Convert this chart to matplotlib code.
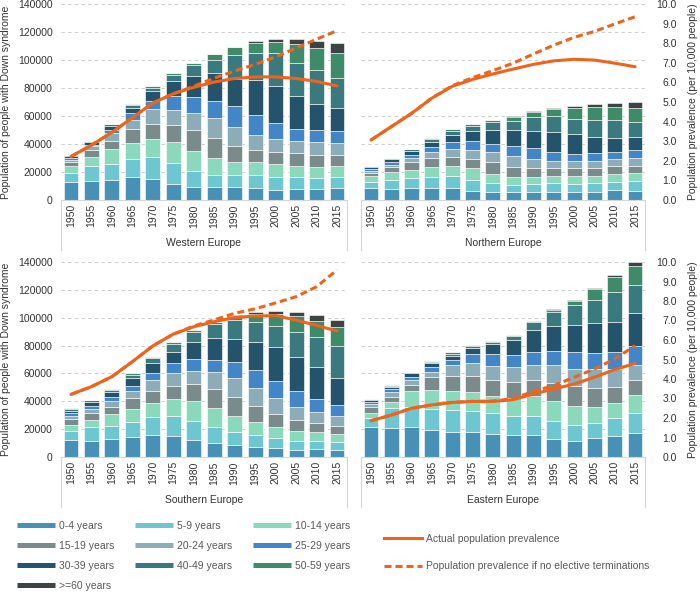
import matplotlib.pyplot as plt
from matplotlib.lines import Line2D
import numpy as np

plt.rcParams['font.family'] = ['Liberation Sans', 'DejaVu Sans']

years = ['1950', '1955', '1960', '1965', '1970', '1975', '1980',
         '1985', '1990', '1995', '2000', '2005', '2010', '2015']
age_groups = ['0-4 years', '5-9 years', '10-14 years', '15-19 years', '20-24 years',
              '25-29 years', '30-39 years', '40-49 years', '50-59 years', '>=60 years']
age_colors = ['#4891b6', '#6dc6d0', '#8bd9bd', '#7a8b8b', '#8cadb7',
              '#4386c7', '#24546b', '#3a7a7e', '#3f8a69', '#3c4446']

# population by age group (rows) and year (columns)
western = [
    [12600, 13300, 14300, 16200, 15200, 11400, 9500, 9000, 9000, 8600, 7400, 7900, 7600, 8800],
    [6400, 10700, 11400, 13100, 15800, 14800, 11000, 9100, 9100, 9500, 9300, 8300, 7900, 7900],
    [5000, 6500, 10700, 11200, 12600, 15000, 14700, 11700, 9300, 8800, 9000, 8300, 8300, 7800],
    [3000, 5200, 6000, 10200, 10900, 12600, 14800, 14200, 10900, 9100, 8800, 9300, 8300, 7600],
    [1800, 2600, 5200, 6700, 10500, 10700, 12100, 14300, 14100, 10700, 9100, 8600, 9100, 8400],
    [1200, 1200, 2600, 4700, 6000, 10000, 11200, 12400, 14700, 14000, 11200, 8500, 8800, 8800],
    [1300, 1700, 2400, 3600, 7200, 10200, 15300, 20200, 19100, 25000, 26600, 23400, 18300, 16600],
    [500, 1000, 1400, 2000, 1900, 4800, 7700, 9100, 17400, 19100, 23800, 23300, 24600, 21000],
    [200, 200, 300, 700, 1400, 1400, 1800, 4000, 5900, 7100, 7400, 13800, 15400, 18300],
    [0, 0, 0, 0, 0, 0, 0, 0, 0, 1400, 2400, 3600, 5300, 6700],
]
northern = [
    [8300, 7900, 8300, 8800, 8600, 6700, 5500, 5500, 6000, 6000, 5500, 5700, 6900, 6700],
    [4800, 6600, 7200, 7900, 8300, 7600, 6400, 5500, 5400, 6100, 5900, 6200, 5700, 6600],
    [4000, 5300, 6200, 6600, 7100, 8300, 6700, 5700, 5300, 5300, 5500, 5500, 6000, 5700],
    [2200, 3500, 5200, 6700, 6500, 6700, 8300, 7100, 5900, 5200, 5700, 5500, 5400, 5500],
    [1700, 1900, 3100, 4500, 5900, 6400, 7100, 7900, 6700, 5000, 5000, 5200, 5300, 5500],
    [900, 1700, 2100, 3600, 4800, 6200, 6000, 6600, 7600, 6900, 5300, 5200, 5200, 5700],
    [1400, 2400, 3100, 3600, 5200, 7600, 10200, 11900, 12600, 14300, 14200, 11900, 9800, 9500],
    [700, 700, 1000, 1600, 3100, 3600, 5800, 6500, 9500, 11000, 10800, 12200, 13100, 10800],
    [300, 200, 200, 700, 1200, 1200, 1000, 2800, 3600, 5200, 8100, 8800, 8800, 9500],
    [0, 0, 0, 0, 0, 0, 400, 700, 1000, 1000, 900, 2400, 3100, 4300],
]
southern = [
    [12200, 11700, 12700, 14600, 15800, 14800, 12400, 10100, 8600, 7400, 6200, 5300, 5700, 5300],
    [6700, 9600, 9800, 10800, 13200, 14400, 13700, 11700, 9600, 8400, 7200, 6400, 5500, 5700],
    [4300, 5500, 8400, 9100, 9800, 12400, 13900, 13400, 11500, 9100, 8400, 7200, 6500, 5500],
    [4100, 4500, 5200, 8100, 8800, 9600, 12400, 13600, 13600, 11500, 9100, 7900, 6700, 6000],
    [2400, 3200, 3900, 5000, 7900, 8900, 9600, 12000, 13200, 13100, 11500, 9300, 8100, 6700],
    [1900, 2400, 3100, 3600, 4800, 7400, 8400, 9100, 11500, 13200, 12400, 11000, 9100, 8100],
    [1700, 2300, 3800, 5300, 6900, 8100, 11900, 15300, 16700, 20100, 23900, 24900, 22800, 19200],
    [1200, 1500, 1400, 2600, 3600, 5500, 7700, 10300, 13900, 13900, 15600, 18000, 21500, 22900],
    [400, 500, 500, 1000, 800, 1200, 1200, 1200, 2400, 6000, 8400, 11500, 12000, 13700],
    [0, 0, 0, 0, 0, 0, 0, 500, 900, 1200, 2100, 2400, 4000, 5300],
]
eastern = [
    [21300, 20800, 21300, 19400, 18200, 17700, 16500, 15800, 15800, 12900, 11700, 13600, 15300, 17200],
    [6500, 14100, 14800, 15100, 15500, 15600, 14800, 13900, 13900, 13200, 11300, 10800, 12500, 14400],
    [3800, 4800, 11000, 13800, 13900, 13100, 12700, 12400, 14300, 13900, 13900, 11300, 11000, 12900],
    [4100, 3600, 4800, 8900, 10800, 11500, 11500, 12000, 11500, 13100, 14300, 13800, 11700, 11000],
    [2300, 3100, 3400, 4100, 7600, 9300, 9600, 10300, 10500, 12900, 12000, 13700, 12700, 10500],
    [1200, 2400, 2400, 3100, 3600, 6700, 8800, 8800, 9600, 10300, 11900, 11500, 12400, 13400],
    [1500, 1700, 2400, 3100, 3100, 4400, 7200, 10800, 15800, 18000, 19700, 21500, 21100, 23900],
    [600, 800, 800, 900, 1500, 1600, 1700, 2600, 5300, 10000, 14300, 16700, 21500, 20100],
    [300, 400, 400, 800, 900, 500, 700, 1200, 1200, 1500, 3100, 7700, 10800, 13400],
    [0, 0, 0, 0, 0, 0, 0, 0, 0, 400, 700, 700, 1900, 3400],
]

# prevalence per 10,000 people
western_actual = [2.22, 2.8, 3.45, 4.2, 4.95, 5.42, 5.75, 6.02, 6.2, 6.28, 6.28, 6.2, 6.05, 5.82]
western_noterm = [2.22, 2.8, 3.45, 4.2, 4.95, 5.42, 5.8, 6.22, 6.58, 6.92, 7.3, 7.75, 8.2, 8.64]
northern_actual = [3.06, 3.74, 4.42, 5.2, 5.8, 6.15, 6.43, 6.68, 6.92, 7.1, 7.18, 7.14, 6.98, 6.8]
northern_noterm = [3.06, 3.74, 4.42, 5.2, 5.83, 6.24, 6.6, 6.98, 7.45, 7.9, 8.3, 8.6, 8.98, 9.35]
southern_actual = [3.21, 3.61, 4.12, 4.89, 5.7, 6.3, 6.68, 6.94, 7.15, 7.23, 7.25, 7.02, 6.75, 6.46]
southern_noterm = [3.21, 3.61, 4.12, 4.89, 5.7, 6.3, 6.72, 7.03, 7.37, 7.6, 7.9, 8.22, 8.73, 9.59]
eastern_actual = [1.86, 2.15, 2.5, 2.67, 2.8, 2.85, 2.85, 2.94, 3.23, 3.49, 3.74, 4.09, 4.48, 4.8]
eastern_noterm = [1.86, 2.15, 2.5, 2.67, 2.8, 2.85, 2.87, 2.99, 3.37, 3.66, 4.09, 4.51, 5.03, 5.71]

orange = '#f0631a'
dash = (0, (2.3, 1.3))
W, H = 700, 593

fig = plt.figure(figsize=(7, 5.93), dpi=100)


def panel(left, top, width, height, name, bars, actual, noterm, show_left, show_right):
    ax = fig.add_axes([left / W, 1 - (top + height) / H, width / W, height / H])
    x = np.arange(len(years))
    bottom = np.zeros(len(years))
    for vals, c in zip(bars, age_colors):
        ax.bar(x, vals, 0.73, bottom=bottom, color=c, edgecolor='white', linewidth=0.4)
        bottom += np.array(vals)
    ax.set_xlim(-0.49, len(years) - 0.51)
    ax.set_ylim(0, 140000)
    ax.set_yticks(np.arange(0, 140001, 20000))
    ax.grid(axis='y', color='#c4c4c4', linestyle=(0, (4, 4)), linewidth=0.6)
    ax.set_axisbelow(True)
    for s in ['left', 'right', 'top']:
        ax.spines[s].set_visible(False)
    ax.spines['bottom'].set_color('#d6d6d6')
    ax.set_xticks(x, years, rotation=90, fontsize=7.5, color='#333333')
    ax.tick_params(axis='x', length=0, pad=3)
    ax.tick_params(axis='y', length=0, labelsize=7.5, labelcolor='#333333', pad=6,
                   labelleft=show_left)
    box = 50 / height
    for xb in (0, 1):
        ax.plot([xb, xb], [0, -box], transform=ax.transAxes, clip_on=False,
                color='#d6d6d6', lw=0.8)
    ax.text(0.5, -43 / height, name, transform=ax.transAxes, ha='center', va='center',
            fontsize=7.5, color='#333333')

    ax2 = ax.twinx()
    ax2.plot(x, actual, color=orange, lw=2.2, solid_capstyle='round')
    ax2.plot(x, noterm, color=orange, lw=2.2, linestyle=dash)
    ax2.set_ylim(0, 10)
    ax2.set_yticks(np.arange(0, 11, 1))
    ax2.set_yticklabels(['%.1f' % v for v in range(11)])
    for s in ax2.spines.values():
        s.set_visible(False)
    ax2.tick_params(axis='y', length=0, labelsize=7.5, labelcolor='#333333', pad=23,
                    labelright=show_right)
    for lbl in ax2.get_yticklabels():
        lbl.set_ha('right')
    return ax


panel(61, 4, 286, 196, 'Western Europe', western, western_actual, western_noterm, True, False)
panel(361, 4, 284, 196, 'Northern Europe', northern, northern_actual, northern_noterm, False, True)
panel(61, 262, 286, 195, 'Southern Europe', southern, southern_actual, southern_noterm, True, False)
panel(361, 262, 284, 195, 'Eastern Europe', eastern, eastern_actual, eastern_noterm, False, True)

for yc in (102, 359.5):
    fig.text(6 / W, 1 - yc / H, 'Population of people with Down syndrome', rotation=90,
             ha='center', va='center', fontsize=7.5, color='#333333')
    fig.text(693 / W, 1 - yc / H, 'Population prevalence (per 10,000 people)', rotation=90,
             ha='center', va='center', fontsize=7.5, color='#333333')

# legend for age groups, filled row by row
order = [0, 3, 6, 9, 1, 4, 7, 2, 5, 8]
age_handles = [Line2D([], [], color=age_colors[i], lw=3.6, solid_capstyle='butt') for i in order]
fig.legend(age_handles, [age_groups[i] for i in order], ncol=3, loc='upper left',
           bbox_to_anchor=(17 / W, 1 - 521 / H), frameon=False, fontsize=7.5,
           handlelength=3.65, handletextpad=0.4, columnspacing=1.95, labelspacing=0.95,
           borderpad=0, borderaxespad=0, labelcolor='#595959')

line_handles = [Line2D([], [], color=orange, lw=2.2),
                Line2D([], [], color=orange, lw=2.2, linestyle=dash)]
fig.legend(line_handles, ['Actual population prevalence',
                          'Population prevalence if no elective terminations'],
           loc='upper left', bbox_to_anchor=(384 / W, 1 - 534 / H), frameon=False,
           fontsize=7.5, handlelength=3.65, handletextpad=0.4, labelspacing=1.65,
           borderpad=0, borderaxespad=0, labelcolor='#595959')

fig.savefig('out.png', dpi=100)
